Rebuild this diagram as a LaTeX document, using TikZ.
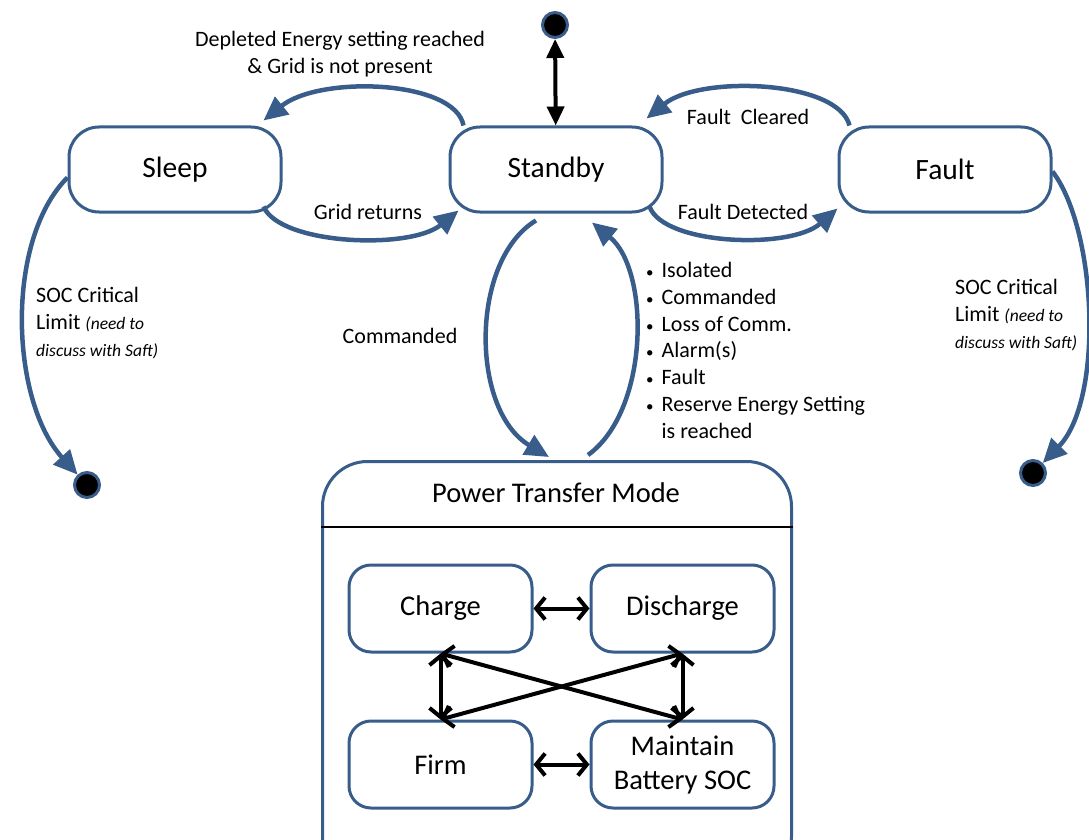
\documentclass[tikz,border=0pt]{standalone}
\usepackage{fontspec}
\setmainfont{Carlito}
\usetikzlibrary{arrows.meta,positioning}
\definecolor{stateBlue}{RGB}{56,93,138}
\tikzset{state/.style={draw=stateBlue, line width=3pt, fill=white, rounded corners=30pt, minimum width=212pt, minimum height=85pt, align=center, font=\fontsize{29.5}{34}\selectfont}}
\tikzset{mode/.style={state, rounded corners=22pt, minimum width=183pt, minimum height=87pt, font=\fontsize{28.5}{34}\selectfont}}
\tikzset{endpoint/.style={circle, fill=black, draw=stateBlue, line width=3pt, minimum size=25pt, inner sep=0pt}}
\tikzset{flow/.style={draw=stateBlue, line width=4.5pt, -{Triangle[length=24pt,width=22pt]}}}
\tikzset{entry/.style={draw=black, line width=4pt, {Triangle[length=19pt,width=17pt]}-{Triangle[length=19pt,width=17pt]}}}
\tikzset{swap/.style={draw=black, line width=4pt, {Straight Barb[length=9pt,width=22pt]}-{Straight Barb[length=9pt,width=22pt]}}}
\tikzset{txt/.style={font=\fontsize{22}{26.7}\selectfont, align=left, inner sep=0pt}}
\newcommand{\notefont}{\fontsize{17.5}{22}\selectfont\itshape}

\begin{document}
\begin{tikzpicture}[x=1pt, y=-1pt]
	\useasboundingbox (0,0) rectangle (1089,840);
	% Nodes
		\node (standby) [state] at (556,169.5) {Standby};
		\node (sleep) [state, left=166pt of standby] {Sleep};
		\node (fault) [state, right=174pt of standby] {Fault};
		
		\node (init) [endpoint] at (555,25) {};
		\node (finalL) [endpoint] at (87,485) {};
		\node (finalR) [endpoint] at (1033,473) {};
		
		\node (ptm) [state, rounded corners=45pt, minimum width=469pt, minimum height=420pt, anchor=north west] at (321,460) {};
		\node (ptmtitle) [font=\fontsize{28.5}{34}\selectfont] at (556,493) {Power Transfer Mode};
		\coordinate (divy) at (0,527);
		\draw[line width=1.2pt] (ptm.west |- divy) -- (ptm.east |- divy);
		
		\node (charge) [mode] at (440.5,608.5) {Charge};
		\node (discharge) [mode, right=56pt of charge] {Discharge};
		\node (firm) [mode, below=66pt of charge] {Firm};
		\node (maintain) [mode, right=56pt of firm] {Maintain\\Battery SOC};
		
		% Labels
		\node (depletedlbl) [txt, align=center] at (340,54) {Depleted Energy setting reached\\\& Grid is not present};
		\node (gridlbl) [txt] at (368,212) {Grid returns};
		\node (clearedlbl) [txt] at (748,117) {Fault\ \ Cleared};
		\node (detectedlbl) [txt] at (743,212) {Fault Detected};
		\node (cmdlbl) [txt] at (400,336) {Commanded};
		\node (exitlbl) [txt, anchor=north west] at (646,259) {%
			\begin{tabular}{@{}l@{\hspace{8pt}}l@{}}
			{\fontsize{15}{15}\selectfont\textbullet} & Isolated\\
			{\fontsize{15}{15}\selectfont\textbullet} & Commanded\\
			{\fontsize{15}{15}\selectfont\textbullet} & Loss of Comm.\\
			{\fontsize{15}{15}\selectfont\textbullet} & Alarm(s)\\
			{\fontsize{15}{15}\selectfont\textbullet} & Fault\\
			{\fontsize{15}{15}\selectfont\textbullet} & Reserve Energy Setting\\
			 & is reached
			\end{tabular}};
		\node (soclblL) [txt, anchor=west] at (36,323) {SOC Critical\\Limit {\notefont (need to}\\{\notefont discuss with Saft)}};
		\node (soclblR) [txt, anchor=west] at (955,315) {SOC Critical\\Limit {\notefont (need to}\\{\notefont discuss with Saft)}};
		
		% Connectors
		\draw[entry] (init) -- (standby);
		
		\draw[flow] ([xshift=15pt]standby.north west) .. controls (455,80) and (320,75) .. ([shift={(-19pt,5pt)}]sleep.north east);
		\draw[flow] ([shift={(-19pt,7pt)}]sleep.south east) .. controls (280,245) and (410,250) .. ([shift={(10pt,3pt)}]standby.south west);
		\draw[flow] ([xshift=12pt]fault.north west) .. controls (838,80) and (700,75) .. ([shift={(-17pt,7pt)}]standby.north east);
		\draw[flow] ([shift={(-14pt,7pt)}]standby.south east) .. controls (663,245) and (790,250) .. ([yshift=5pt]fault.south west);
		
		\draw[flow] ([shift={(-20pt,-7pt)}]standby.south) .. controls (470,260) and (470,410) .. ([shift={(-8pt,3pt)}]ptm.north);
		\draw[flow] ([shift={(31pt,5pt)}]ptm.north) .. controls (650,410) and (650,270) .. ([shift={(36pt,-9pt)}]standby.south);
		
		\draw[flow] ([yshift=-8pt]sleep.west) .. controls (5,240) and (10,400) .. (finalL);
		\draw[flow] ([yshift=-2pt]fault.east) .. controls (1097,230) and (1104,400) .. (finalR);
		
		\draw[swap] (charge) -- (discharge);
		\draw[swap] (firm) -- (maintain);
		\draw[swap] (charge.south) -- (firm.north);
		\draw[swap] (discharge.south) -- (maintain.north);
		\draw[swap] (charge.south) -- (maintain.north);
		\draw[swap] (discharge.south) -- (firm.north);

\end{tikzpicture}
\end{document}
